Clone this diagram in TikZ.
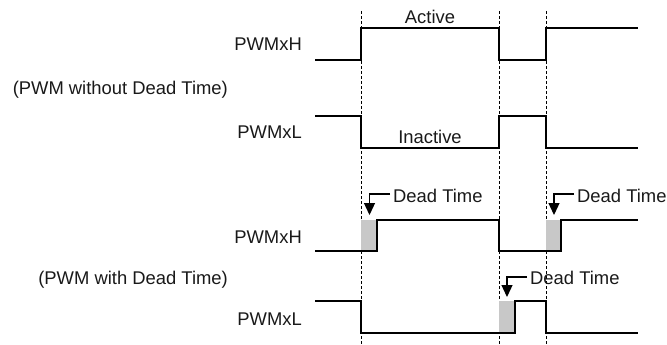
\documentclass[tikz,border=0pt]{standalone}
\usepackage{fontspec}
\setmainfont{Liberation Sans}
\usetikzlibrary{arrows.meta}
\definecolor{shade}{RGB}{200,200,200}
\begin{document}
\begin{tikzpicture}[x=1pt,y=-1pt,
  lbl/.style={inner sep=0pt,font=\fontsize{18.4}{22}\selectfont,text=black!90},
  sig/.style={line width=1.6pt,line join=miter},
  guide/.style={line width=1pt,dash pattern=on 3pt off 2pt},
  dt/.style={fill=shade,draw=none},
  dtarrow/.style={line width=1.3pt,-{Triangle[width=11pt,length=12pt]}}]
\useasboundingbox (0,0) rectangle (667,345);
% guides
\draw[guide] (361,11) -- (361,345);
\draw[guide] (499,11) -- (499,345);
\draw[guide] (546,11) -- (546,345);
% labels
\node[lbl,anchor=base east] (h1) at (302,50.5) {PWMxH};
\node[lbl,anchor=base east] (g1) at (228,95) {(PWM without Dead Time)};
\node[lbl,anchor=base east] (l1) at (302,139) {PWMxL};
\node[lbl,anchor=base east] (h2) at (302,243) {PWMxH};
\node[lbl,anchor=base east] (g2) at (228,284) {(PWM with Dead Time)};
\node[lbl,anchor=base east] (l2) at (302,325) {PWMxL};
\node[lbl,anchor=base] (act) at (430,23.5) {Active};
\node[lbl,anchor=base] (inact) at (430,143) {Inactive};
% shades
\fill[dt] (361,220) rectangle (377,251);
\fill[dt] (546,220) rectangle (561,251);
\fill[dt] (499,301) rectangle (515,333);
% waveforms without dead time
\draw[sig] (315,60) -- (361,60) -- (361,28) -- (499,28) -- (499,60) -- (546,60) -- (546,28) -- (638,28);
\draw[sig] (315,116) -- (361,116) -- (361,148) -- (499,148) -- (499,116) -- (546,116) -- (546,148) -- (638,148);
% waveforms with dead time
\draw[sig] (315,251) -- (377,251) -- (377,220) -- (499,220) -- (499,251) -- (561,251) -- (561,220) -- (638,220);
\draw[sig] (315,301) -- (361,301) -- (361,333) -- (515,333) -- (515,301) -- (546,301) -- (546,333) -- (638,333);
% dead time labels
\node[lbl,anchor=base west] (d1) at (393,202) {Dead Time};
\node[lbl,anchor=base west] (d2) at (577,202) {Dead Time};
\node[lbl,anchor=base west] (d3) at (530,284) {Dead Time};
\coordinate (t1) at (369.5,215);
\coordinate (t2) at (554,215);
\coordinate (t3) at (507,297);
\draw[dtarrow] (d1.west |- 0,194) ++(-3,0) -| (t1);
\draw[dtarrow] (d2.west |- 0,194) ++(-3,0) -| (t2);
\draw[dtarrow] (d3.west |- 0,277) ++(-3,0) -| (t3);
\end{tikzpicture}
\end{document}
